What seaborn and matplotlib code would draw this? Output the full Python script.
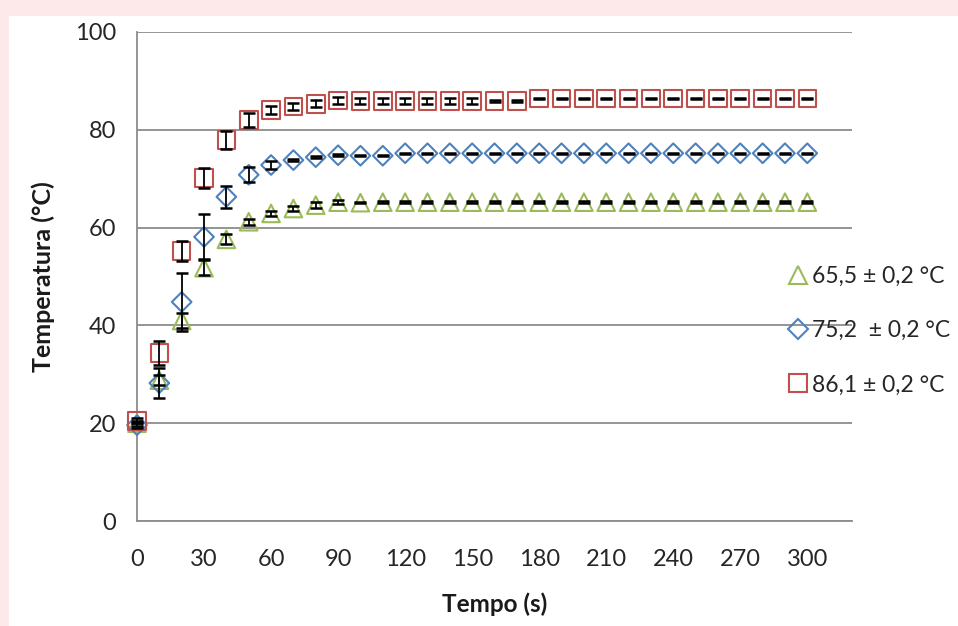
import numpy as np
import pandas as pd
import matplotlib
matplotlib.use("Agg")
import matplotlib.pyplot as plt
from matplotlib.patches import Rectangle
from matplotlib.lines import Line2D
import seaborn as sns

# time (s)
tempo = [0, 10, 20, 30, 40, 50, 60, 70, 80, 90, 100, 110, 120, 130, 140, 150,
         160, 170, 180, 190, 200, 210, 220, 230, 240, 250, 260, 270, 280, 290, 300]

# 65,5 series (green triangles)
t_65 = [20.0, 28.8, 41.0, 51.8, 57.6, 61.2, 62.9, 63.9, 64.6, 65.2, 65.1, 65.2, 65.2, 65.2, 65.2, 65.2,
        65.2, 65.2, 65.2, 65.2, 65.2, 65.2, 65.2, 65.2, 65.2, 65.2, 65.2, 65.2, 65.2, 65.2, 65.2]
err_65 = [0.5, 1.0, 1.5, 1.5, 1.0, 0.6, 0.5, 0.5, 0.6, 0.4, 0.15, 0.15, 0.15, 0.15, 0.15, 0.15,
          0.15, 0.15, 0.15, 0.15, 0.15, 0.15, 0.15, 0.15, 0.15, 0.15, 0.15, 0.15, 0.15, 0.15, 0.15]

# 75,2 series (blue diamonds)
t_75 = [19.6, 28.2, 44.8, 58.1, 66.3, 70.8, 72.8, 73.8, 74.4, 74.8, 74.7, 74.7, 75.2, 75.2, 75.2, 75.2,
        75.2, 75.2, 75.2, 75.2, 75.2, 75.2, 75.2, 75.2, 75.2, 75.2, 75.2, 75.2, 75.2, 75.2, 75.2]
err_75 = [0.5, 3.0, 6.0, 4.6, 2.3, 1.5, 0.8, 0.2, 0.2, 0.2, 0.15, 0.15, 0.15, 0.15, 0.15, 0.15,
          0.15, 0.15, 0.15, 0.15, 0.15, 0.15, 0.15, 0.15, 0.15, 0.15, 0.15, 0.15, 0.15, 0.15, 0.15]

# 86,1 series (red squares)
t_86 = [20.5, 34.4, 55.2, 70.1, 77.9, 82.0, 84.0, 84.8, 85.3, 86.0, 85.9, 85.9, 85.9, 85.9, 85.9, 85.9,
        85.9, 85.9, 86.4, 86.4, 86.4, 86.4, 86.4, 86.4, 86.4, 86.4, 86.4, 86.4, 86.4, 86.4, 86.4]
err_86 = [0.5, 2.5, 2.0, 2.0, 1.8, 1.5, 0.8, 0.7, 0.7, 0.8, 0.6, 0.6, 0.6, 0.6, 0.6, 0.6,
          0.15, 0.15, 0.15, 0.15, 0.15, 0.15, 0.15, 0.15, 0.15, 0.15, 0.15, 0.15, 0.15, 0.15, 0.15]

labels = ['65,5 ± 0,2 °C', '75,2  ± 0,2 °C', '86,1 ± 0,2 °C']
xticks = [0, 30, 60, 90, 120, 150, 180, 210, 240, 270, 300]
yticks = [0, 20, 40, 60, 80, 100]

colors = {'65': '#9bbb59', '75': '#4f81bd', '86': '#c0504d'}
markers = {'65': '^', '75': 'D', '86': 's'}
sizes = {'65': 160, '75': 100, '86': 160}

sns.set_style('white')
plt.rcParams['font.family'] = ['Lato', 'DejaVu Sans']

fig = plt.figure(figsize=(9.58, 6.26), dpi=100)
fig.patch.set_facecolor('#fde8ea')
fig.patches.append(Rectangle((9 / 958, 0), 1, 610 / 626, transform=fig.transFigure,
                             facecolor='white', edgecolor='none', zorder=-5))

ax = fig.add_axes([137 / 958, 105 / 626, 715 / 958, 489 / 626])
ax.set_facecolor('none')

series = [('65', t_65, err_65), ('75', t_75, err_75), ('86', t_86, err_86)]
for key, vals, err in series:
    df = pd.DataFrame({'tempo': tempo, 'temp': vals})
    sns.scatterplot(data=df, x='tempo', y='temp', marker=markers[key], s=sizes[key],
                    ax=ax, zorder=3, clip_on=False)
    coll = ax.collections[-1]
    coll.set_facecolor('none')
    coll.set_edgecolor(colors[key])
    coll.set_linewidth(1.5)

for key, vals, err in series:
    ax.errorbar(tempo, vals, yerr=err, fmt='none', ecolor='black', elinewidth=1.3,
                capsize=4, capthick=1.8, zorder=4, clip_on=False)

ax.set_xlim(0, 320)
ax.set_ylim(0, 100)
ax.set_xticks(xticks)
ax.set_yticks(yticks)
ax.yaxis.grid(True, color='#8c8c8c', linewidth=1.3)
ax.xaxis.grid(False)
for side in ['top', 'right']:
    ax.spines[side].set_visible(False)
for side in ['left', 'bottom']:
    ax.spines[side].set_color('#8c8c8c')
    ax.spines[side].set_linewidth(1.3)
ax.tick_params(axis='both', which='major', direction='out', length=7, width=1.1,
               color='#8c8c8c', labelsize=17, labelcolor='#262626')
ax.tick_params(axis='x', pad=13)
ax.tick_params(axis='y', pad=8)
ax.set_xlabel('Tempo (s)', fontsize=17.5, fontweight='bold', labelpad=16, color='#1a1a1a')
ax.set_ylabel('Temperatura (°C)', fontsize=18, fontweight='bold', labelpad=14, color='#1a1a1a')

handles = [Line2D([], [], linestyle='', marker=markers[k], markersize=(sizes[k] ** 0.5),
                  markerfacecolor='none', markeredgecolor=colors[k], markeredgewidth=1.5)
           for k in ['65', '75', '86']]
ax.legend(handles, labels, loc='center left', bbox_to_anchor=(0.91, 0.389),
          frameon=False, fontsize=16.5, handlelength=0.9, handletextpad=0.15,
          labelspacing=1.45, borderpad=0, borderaxespad=0)

fig.savefig('out.png', dpi=100, facecolor=fig.get_facecolor())
